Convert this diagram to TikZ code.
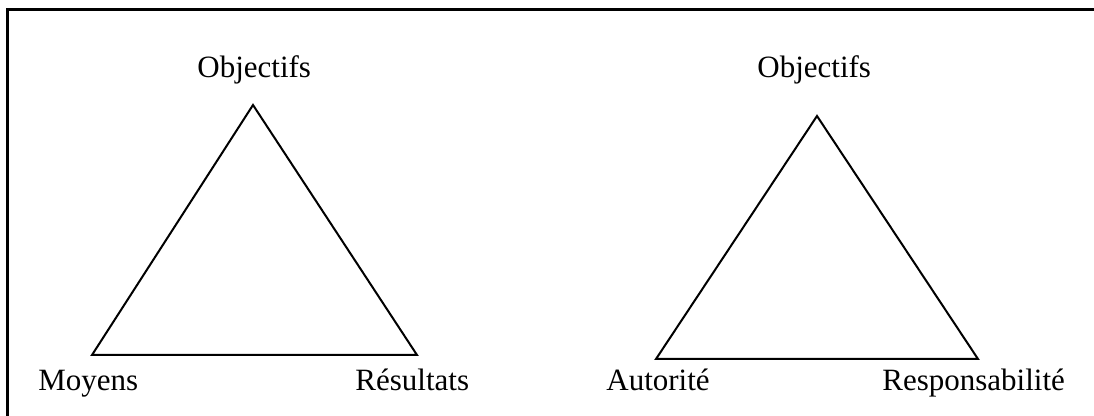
\documentclass[tikz,border=0pt]{standalone}
\usepackage{fontspec}
\setmainfont{Liberation Serif}
\begin{document}
\begin{tikzpicture}[x=0.5pt,y=-0.5pt,
  lbl/.style={anchor=base west,inner sep=0pt,font=\fontsize{15.5pt}{18pt}\selectfont},
  edge/.style={line width=1pt,line join=miter},
  frame/.style={line width=1.3pt}]
\useasboundingbox (0,0) rectangle (1094,416);
% frame (top and left sides)
\coordinate (f1) at (7.5,416);
\coordinate (f2) at (7.5,9.5);
\coordinate (f3) at (1094,9.5);
\draw[frame] (f1) -- (f2) -- (f3);
% first triangle
\coordinate (a1) at (253,105);
\coordinate (b1) at (92,355);
\coordinate (c1) at (417,355);
\draw[edge] (a1) -- (b1) -- (c1) -- cycle;
\node[lbl] (o1) at (197,78) {Objectifs};
\node[lbl] (m1) at (38,391) {Moyens};
\node[lbl] (r1) at (355,391) {Résultats};
% second triangle
\coordinate (a2) at (817,116);
\coordinate (b2) at (656,359);
\coordinate (c2) at (978,359);
\draw[edge] (a2) -- (b2) -- (c2) -- cycle;
\node[lbl] (o2) at (757,78) {Objectifs};
\node[lbl] (m2) at (606,391) {Autorité};
\node[lbl] (r2) at (882,391) {Responsabilité};
\end{tikzpicture}
\end{document}
